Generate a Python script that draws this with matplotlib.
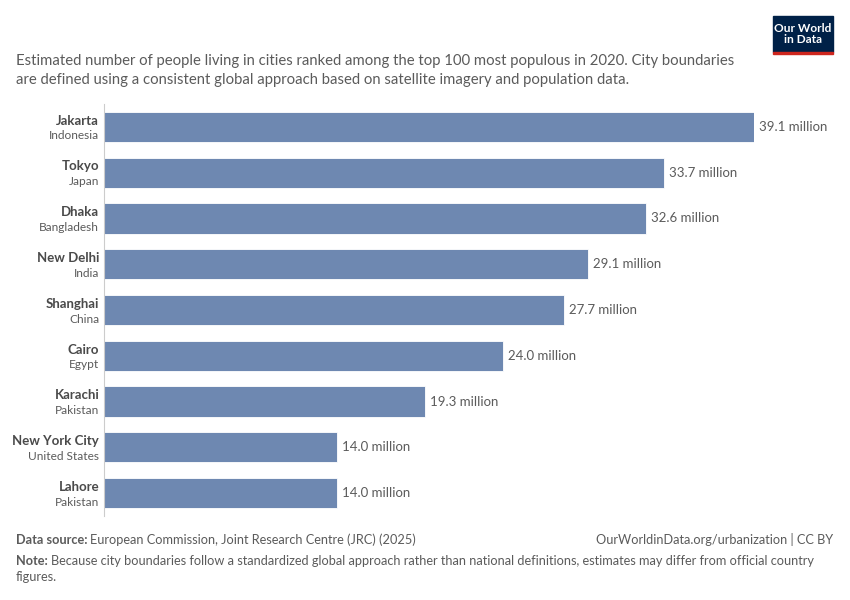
import matplotlib.pyplot as plt
from matplotlib.patches import Rectangle

plt.rcParams['font.family'] = ['Lato', 'DejaVu Sans']

cities = ['Jakarta', 'Tokyo', 'Dhaka', 'New Delhi', 'Shanghai', 'Cairo', 'Karachi', 'New York City', 'Lahore']
countries = ['Indonesia', 'Japan', 'Bangladesh', 'India', 'China', 'Egypt', 'Pakistan', 'United States', 'Pakistan']
population = [39.1, 33.7, 32.6, 29.1, 27.7, 24.0, 19.3, 14.0, 14.0]

bar_col = '#6e88b1'
grey = '#5b5b5b'
dark = '#4a4a4a'

W, H = 850, 600
fig = plt.figure(figsize=(8.5, 6), dpi=100)

# axes placed in pixel coords: x 104..754, y 104..516
ax = fig.add_axes([104 / W, 1 - 516 / H, 650 / W, 412 / H])
ypos = list(range(len(cities)))
ax.barh(ypos, population, height=0.66, color=bar_col, edgecolor='white', linewidth=0.6)
ax.set_xlim(0, max(population))
ax.set_ylim(len(cities) - 0.5, -0.5)
for s in ['top', 'right', 'bottom']:
    ax.spines[s].set_visible(False)
ax.spines['left'].set_color('#cccccc')
ax.spines['left'].set_linewidth(0.8)
ax.set_xticks([])
ax.set_yticks([])

for i, (c, k, v) in enumerate(zip(cities, countries, population)):
    ax.annotate(f'{v:.1f} million', xy=(v, i), xytext=(3.5, 0), textcoords='offset points',
                va='center', ha='left', fontsize=9.5, color=grey, annotation_clip=False)
    ax.annotate(c, xy=(0, i), xytext=(-3.5, 4.5), textcoords='offset points', ha='right', va='center',
                fontsize=9.5, fontweight='bold', color=dark, annotation_clip=False)
    ax.annotate(k, xy=(0, i), xytext=(-3.5, -6.5), textcoords='offset points', ha='right', va='center',
                fontsize=8.6, color=grey, annotation_clip=False)

# subtitle
fig.text(16 / W, 1 - 61 / H, 'Estimated number of people living in cities ranked among the top 100 most populous in 2020. City boundaries',
         fontsize=10.75, color=grey, va='center')
fig.text(16 / W, 1 - 80 / H, 'are defined using a consistent global approach based on satellite imagery and population data.',
         fontsize=10.75, color=grey, va='center')

# logo
fig.patches.append(Rectangle((773 / W, 1 - 51.5 / H), 60 / W, 35.5 / H, transform=fig.transFigure, color='#002147'))
fig.patches.append(Rectangle((773 / W, 1 - 54 / H), 60 / W, 2.5 / H, transform=fig.transFigure, color='#ce261e'))
fig.text(803 / W, 1 - 34 / H, 'Our World\nin Data', ha='center', va='center', color='white', fontsize=8.6,
         fontweight='bold', linespacing=0.95)

# footer
src = fig.text(16 / W, 1 - 540 / H, 'Data source:', fontsize=9.2, fontweight='bold', color=grey, va='center')
fig.text(833 / W, 1 - 540 / H, 'OurWorldinData.org/urbanization | CC BY', fontsize=9.2, color=grey, va='center', ha='right')
note = fig.text(16 / W, 1 - 561 / H, 'Note:', fontsize=9.2, fontweight='bold', color=grey, va='center')
fig.text(16 / W, 1 - 577 / H, 'figures.', fontsize=9.2, color=grey, va='center')

fig.canvas.draw()
r = fig.canvas.get_renderer()
for lab, txt in [(src, 'European Commission, Joint Research Centre (JRC) (2025)'),
                 (note, 'Because city boundaries follow a standardized global approach rather than national definitions, estimates may differ from official country')]:
    bb = lab.get_window_extent(r)
    fig.text((bb.x1 + 3) / W, lab.get_position()[1], txt, fontsize=9.2, color=grey, va='center')

fig.savefig('out.png', dpi=100, facecolor='white')
